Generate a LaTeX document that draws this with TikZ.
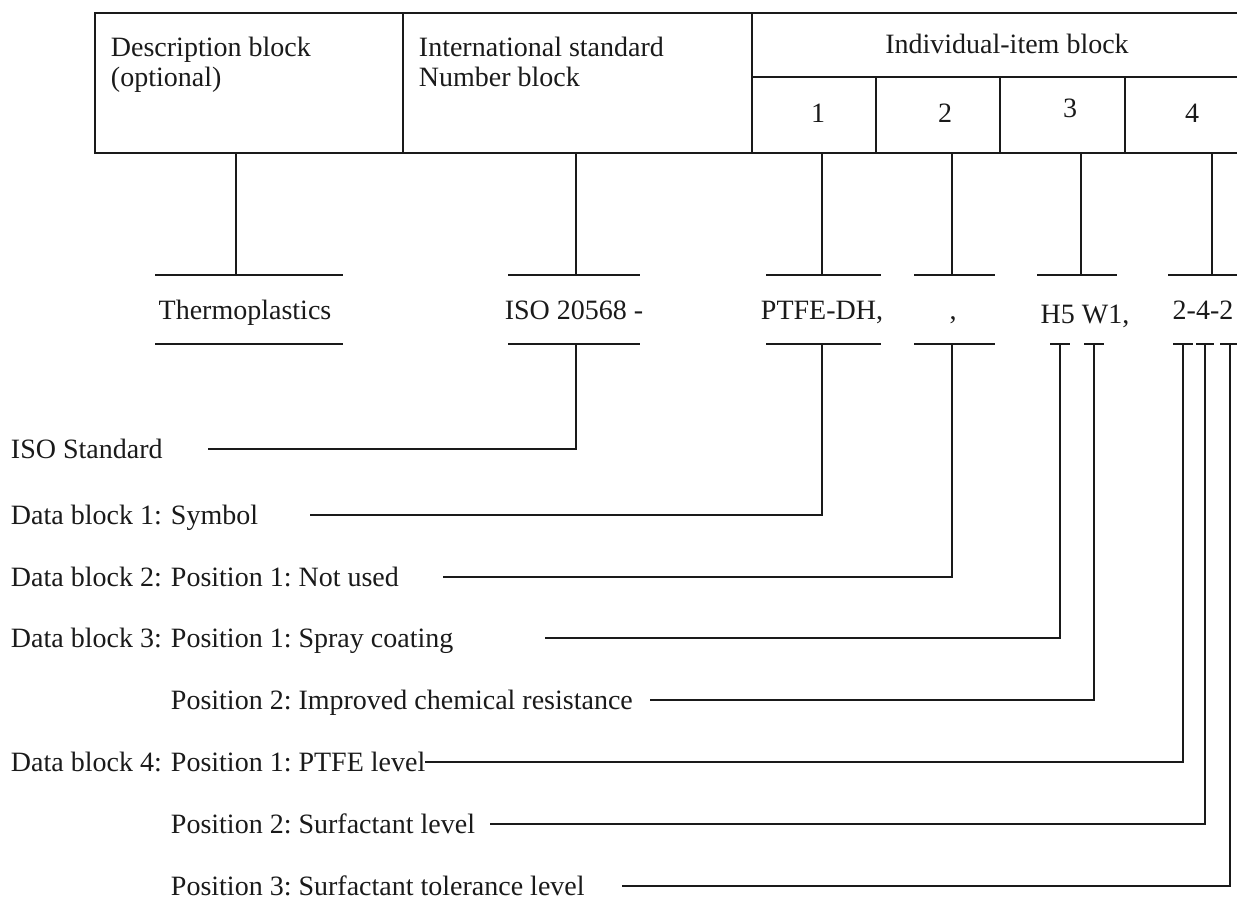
\documentclass[tikz,border=0pt]{standalone}
\usepackage{fontspec}
\setmainfont{Liberation Serif}
\frenchspacing
\newcommand{\blk}[1]{\makebox[80pt][l]{#1}}
\begin{document}
\begin{tikzpicture}[x=0.5pt,y=-0.5pt,font=\fontsize{14}{15}\selectfont,line width=0.95pt]
\definecolor{ink}{HTML}{1A1A1A}
\tikzset{
  lbl/.style={anchor=base west,inner sep=0pt,text=ink},
  code/.style={anchor=base,inner sep=0pt,text=ink},
  rule/.style={draw=ink}
}
\useasboundingbox (0,0) rectangle (1237,900);
% frame of the designation
\draw[rule] (1237,13) -- (95,13) -- (95,153) -- (1237,153);
\draw[rule] (403,13) -- (403,153);
\draw[rule] (752,13) -- (752,153);
\draw[rule] (752,77) -- (1237,77);
\foreach \x in {876,1000,1125} \draw[rule] (\x,77) -- (\x,153);
\node[lbl,anchor=north west,align=left] (desc) at (110,36) {Description block\\(optional)};
\node[lbl,anchor=north west,align=left] (intl) at (418,36) {International standard\\Number block};
\node[code] (indiv) at (1007,53) {Individual-item block};
\node[code] (n1) at (818,122) {1};
\node[code] (n2) at (945,122) {2};
\node[code] (n3) at (1070,117) {3};
\node[code] (n4) at (1192,122) {4};
% upper tabs with drops from the frame
\foreach \l/\r/\m in {155/343/236,508/640/576,766/881/822,914/995/952,1037/1117/1081,1168/1237/1212}{
  \draw[rule] (\l,275) -- (\r,275);
  \draw[rule] (\m,153) -- (\m,275);
}
% the designation itself
\node[code] (thermo) at (245,319) {Thermoplastics};
\node[code] (isono) at (574,319) {ISO 20568 -};
\node[code] (ptfe) at (822,319) {PTFE-DH,};
\node[code] (comma) at (953,319) {,};
\node[code] (hw) at (1085,323) {H5 W1,};
\node[code] (lvl) at (1203,319) {2-4-2};
% lower tabs
\foreach \l/\r in {155/343,508/640,766/881,914/995,1050/1070,1084/1104,1173/1193,1196/1214,1220/1237}
  \draw[rule] (\l,344) -- (\r,344);
\coordinate (tiso) at (576,344);
\coordinate (tsym) at (822,344);
\coordinate (tnu) at (952,344);
\coordinate (tspray) at (1060,344);
\coordinate (tchem) at (1094,344);
\coordinate (tptfe) at (1183,344);
\coordinate (tsurf) at (1205,344);
\coordinate (ttol) at (1230,344);
% explanations
\node[lbl] (liso) at (10,458) {ISO Standard};
\node[lbl] (lsym) at (10,524) {\blk{Data block 1:}Symbol};
\node[lbl] (lnu) at (10,586) {\blk{Data block 2:}Position 1: Not used};
\node[lbl] (lspray) at (10,647) {\blk{Data block 3:}Position 1: Spray coating};
\node[lbl] (lchem) at (170,709) {Position 2: Improved chemical resistance};
\node[lbl] (lptfe) at (10,771) {\blk{Data block 4:}Position 1: PTFE level};
\node[lbl] (lsurf) at (170,833) {Position 2: Surfactant level};
\node[lbl] (ltol) at (170,895) {Position 3: Surfactant tolerance level};
\coordinate (siso) at (208,449);
\coordinate (ssym) at (310,515);
\coordinate (snu) at (443,577);
\coordinate (sspray) at (545,638);
\coordinate (schem) at (650,700);
\coordinate (sptfe) at (425,762);
\coordinate (ssurf) at (490,824);
\coordinate (stol) at (622,886);
% leaders
\foreach \t/\s in {tiso/siso,tsym/ssym,tnu/snu,tspray/sspray,tchem/schem,tptfe/sptfe,tsurf/ssurf,ttol/stol}
  \draw[rule] (\t) |- (\s);
\end{tikzpicture}
\end{document}
